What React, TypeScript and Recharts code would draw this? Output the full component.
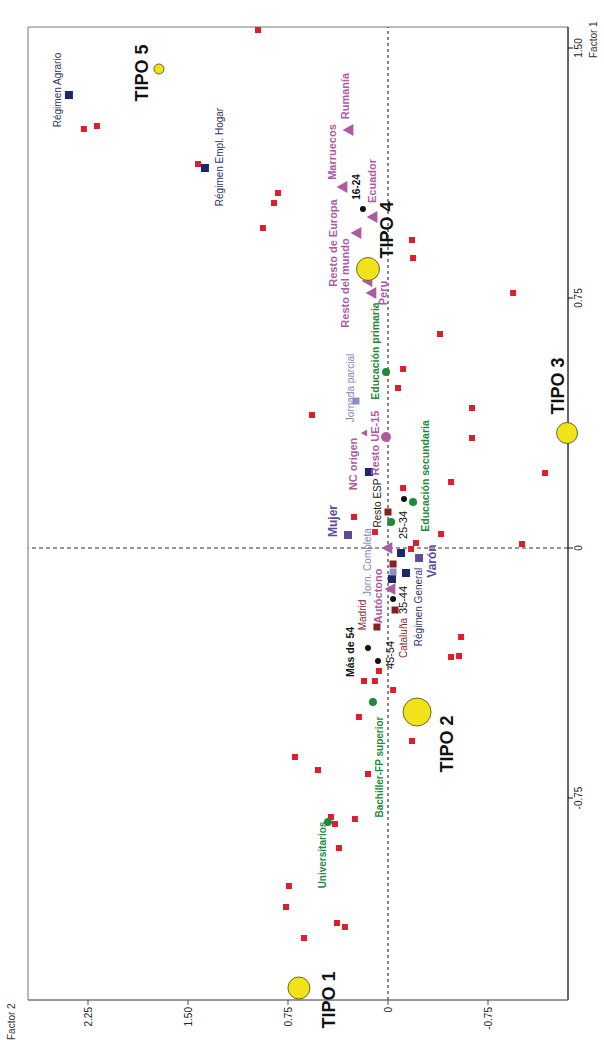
import React from 'react';
import { ScatterChart, Scatter, XAxis, YAxis, ReferenceLine, ReferenceArea } from 'recharts';

type Pt = { name: string; f1: number; f2: number };

// ---------- DATA ----------
const factor1Ticks = [-0.75, 0, 0.75, 1.5];
const factor2Ticks = [-0.75, 0, 0.75, 1.5, 2.25];

const individuos: Pt[] = [
  { name: '', f1: 1.554, f2: 0.975 }, { name: '', f1: 1.257, f2: 2.281 }, { name: '', f1: 1.266, f2: 2.183 },
  { name: '', f1: 1.152, f2: 1.425 }, { name: '', f1: 1.065, f2: 0.825 }, { name: '', f1: 1.035, f2: 0.855 },
  { name: '', f1: 0.96, f2: 0.938 }, { name: '', f1: 0.924, f2: -0.18 }, { name: '', f1: 0.87, f2: -0.188 },
  { name: '', f1: 0.765, f2: -0.938 }, { name: '', f1: 0.642, f2: -0.39 }, { name: '', f1: 0.537, f2: -0.113 },
  { name: '', f1: 0.48, f2: -0.075 }, { name: '', f1: 0.399, f2: 0.57 }, { name: '', f1: 0.42, f2: -0.63 },
  { name: '', f1: 0.33, f2: -0.63 }, { name: '', f1: 0.225, f2: -1.178 }, { name: '', f1: 0.198, f2: -0.473 },
  { name: '', f1: 0.18, f2: -0.113 }, { name: '', f1: 0.093, f2: 0.255 }, { name: '', f1: 0.048, f2: 0.098 },
  { name: '', f1: 0.042, f2: -0.398 }, { name: '', f1: 0.015, f2: -0.21 }, { name: '', f1: -0.003, f2: -0.173 },
  { name: '', f1: 0.012, f2: -1.005 }, { name: '', f1: -0.267, f2: -0.548 }, { name: '', f1: -0.327, f2: -0.473 },
  { name: '', f1: -0.324, f2: -0.533 }, { name: '', f1: -0.369, f2: 0.068 }, { name: '', f1: -0.399, f2: 0.18 },
  { name: '', f1: -0.399, f2: 0.098 }, { name: '', f1: -0.426, f2: -0.038 }, { name: '', f1: -0.507, f2: 0.218 },
  { name: '', f1: -0.579, f2: -0.18 }, { name: '', f1: -0.627, f2: 0.698 }, { name: '', f1: -0.666, f2: 0.525 },
  { name: '', f1: -0.678, f2: 0.15 }, { name: '', f1: -0.807, f2: 0.428 }, { name: '', f1: -0.813, f2: 0.248 },
  { name: '', f1: -0.828, f2: 0.398 }, { name: '', f1: -0.9, f2: 0.368 }, { name: '', f1: -1.014, f2: 0.743 },
  { name: '', f1: -1.077, f2: 0.765 }, { name: '', f1: -1.17, f2: 0.63 }, { name: '', f1: -1.125, f2: 0.383 },
  { name: '', f1: -1.137, f2: 0.323 },
];

const regimen: Pt[] = [
  { name: 'Régimen Agrario', f1: 1.359, f2: 2.393 },
  { name: 'Régimen Empl. Hogar', f1: 1.14, f2: 1.373 },
  { name: '', f1: 0.228, f2: 0.143 },
  { name: '', f1: -0.015, f2: -0.098 },
  { name: 'Régimen General', f1: -0.075, f2: -0.135 },
  { name: '', f1: -0.093, f2: -0.03 },
];

const jornada: Pt[] = [
  { name: 'Jornada parcial', f1: 0.441, f2: 0.24 },
  { name: 'Jorn. Completa', f1: -0.072, f2: -0.038 },
];

const sexo: Pt[] = [
  { name: 'Mujer', f1: 0.039, f2: 0.3 },
  { name: 'Varón', f1: -0.03, f2: -0.233 },
];

const region: Pt[] = [
  { name: 'Resto ESP', f1: 0.108, f2: 0.0 },
  { name: '', f1: -0.048, f2: -0.038 },
  { name: 'Madrid', f1: -0.237, f2: 0.083 },
  { name: 'Cataluña', f1: -0.186, f2: -0.053 },
];

const origen: Pt[] = [
  { name: 'Rumanía', f1: 1.254, f2: 0.3 },
  { name: 'Marruecos', f1: 1.083, f2: 0.345 },
  { name: 'Ecuador', f1: 0.993, f2: 0.12 },
  { name: 'Resto de Europa', f1: 0.945, f2: 0.24 },
  { name: 'Resto del mundo', f1: 0.801, f2: 0.158 },
  { name: 'Peru', f1: 0.765, f2: 0.128 },
  { name: 'Autóctono', f1: -0.123, f2: -0.015 },
  { name: '', f1: 0.0, f2: 0.008 },
];

const origenMenor: Pt[] = [
  { name: 'NC origen', f1: 0.345, f2: 0.18 },
];

const origenUE: Pt[] = [
  { name: 'Resto UE-15', f1: 0.333, f2: 0.015 },
];

const edad: Pt[] = [
  { name: '16-24', f1: 1.017, f2: 0.188 },
  { name: '25-34', f1: 0.147, f2: -0.12 },
  { name: '35-44', f1: -0.153, f2: -0.038 },
  { name: '45-54', f1: -0.339, f2: 0.075 },
  { name: 'Más de 54', f1: -0.3, f2: 0.15 },
];

const estudios: Pt[] = [
  { name: 'Educación primaria', f1: 0.528, f2: 0.015 },
  { name: 'Educación secundaria', f1: 0.138, f2: -0.188 },
  { name: '', f1: 0.078, f2: -0.023 },
  { name: 'Bachiller-FP superior', f1: -0.462, f2: 0.113 },
  { name: 'Universitarios', f1: -0.822, f2: 0.45 },
];

const tipos: Pt[] = [
  { name: 'TIPO 1', f1: -1.32, f2: 0.668 },
  { name: 'TIPO 2', f1: -0.492, f2: -0.218 },
  { name: 'TIPO 3', f1: 0.345, f2: -1.343 },
  { name: 'TIPO 4', f1: 0.837, f2: 0.15 },
  { name: 'TIPO 5', f1: 1.437, f2: 1.718 },
];

// ---------- STYLES ----------
const FONT = '"Liberation Sans", Arial, sans-serif';
const PURPLE = '#ad5aa5';
const VIOLET = '#5b4a98';
const GREEN = '#1f8a3c';
const NAVY = '#1d2766';
const MAROON = '#8a1f22';
const LIGHTBLUE = '#8a8fc6';
const RED = '#dc1f2b';

type LS = { dx: number; dy: number; size: number; weight: string | number; color: string };
const labelStyles: Record<string, LS> = {
  'Régimen Agrario': { dx: 5, dy: -11, size: 10, weight: 'normal', color: '#2e3466' },
  'Régimen Empl. Hogar': { dx: 11, dy: 15, size: 10, weight: 'normal', color: '#2e3466' },
  'Régimen General': { dx: -34, dy: 12, size: 10, weight: 'normal', color: '#2e3466' },
  'Jornada parcial': { dx: 13, dy: -6, size: 10, weight: 'normal', color: '#7f85b8' },
  'Jorn. Completa': { dx: 10, dy: -26, size: 10, weight: 'normal', color: '#7f85b8' },
  'Mujer': { dx: 14, dy: -15, size: 12, weight: 'bold', color: VIOLET },
  'Varón': { dx: -3, dy: 13, size: 12, weight: 'bold', color: VIOLET },
  'Resto ESP': { dx: 9, dy: -11, size: 10, weight: 'normal', color: '#222' },
  'Madrid': { dx: 12, dy: -14, size: 10, weight: 'normal', color: '#8b2b2b' },
  'Cataluña': { dx: -28, dy: 8, size: 10, weight: 'normal', color: '#8b2b2b' },
  'Rumanía': { dx: 34, dy: -3, size: 11, weight: 'bold', color: PURPLE },
  'Marruecos': { dx: 35, dy: -10, size: 11, weight: 'bold', color: PURPLE },
  'Ecuador': { dx: 36, dy: 0, size: 11, weight: 'bold', color: PURPLE },
  'Resto de Europa': { dx: -10, dy: -23, size: 11, weight: 'bold', color: PURPLE },
  'Resto del mundo': { dx: -2, dy: -22, size: 11, weight: 'bold', color: PURPLE },
  'Peru': { dx: 0, dy: 12, size: 11, weight: 'bold', color: PURPLE },
  'NC origen': { dx: -31, dy: -11, size: 11, weight: 'bold', color: PURPLE },
  'Autóctono': { dx: -7, dy: -12, size: 11, weight: 'bold', color: PURPLE },
  'Resto UE-15': { dx: -6, dy: -11, size: 11, weight: 'bold', color: PURPLE },
  '16-24': { dx: 22, dy: -6, size: 10, weight: 'bold', color: '#111' },
  '25-34': { dx: -26, dy: -1, size: 11, weight: 'normal', color: '#111' },
  '35-44': { dx: -1, dy: 10, size: 11, weight: 'normal', color: '#111' },
  '45-54': { dx: 6, dy: 12, size: 11, weight: 'normal', color: '#111' },
  'Más de 54': { dx: -4, dy: -18, size: 10.5, weight: 'bold', color: '#111' },
  'Educación primaria': { dx: 21, dy: -11, size: 10.5, weight: 'bold', color: GREEN },
  'Educación secundaria': { dx: 26, dy: 12, size: 10.5, weight: 'bold', color: GREEN },
  'Bachiller-FP superior': { dx: -65, dy: 7, size: 10, weight: 'bold', color: GREEN },
  'Universitarios': { dx: -33, dy: -6, size: 10, weight: 'bold', color: GREEN },
  'TIPO 1': { dx: -12, dy: 30, size: 18, weight: 'bold', color: '#111' },
  'TIPO 2': { dx: -32, dy: 30, size: 18, weight: 'bold', color: '#111' },
  'TIPO 3': { dx: 47, dy: -9, size: 18, weight: 'bold', color: '#111' },
  'TIPO 4': { dx: 39, dy: 19, size: 18, weight: 'bold', color: '#111' },
  'TIPO 5': { dx: -4, dy: -17, size: 18, weight: 'bold', color: '#111' },
};

const tipoRadius: Record<string, number> = {
  'TIPO 1': 11, 'TIPO 2': 14, 'TIPO 3': 10.5, 'TIPO 4': 11.5, 'TIPO 5': 5,
};

type Kind = 'square' | 'triangle' | 'circle' | 'tipo';

const renderLabel = (name: string, cx: number, cy: number) => {
  const s = labelStyles[name];
  if (!name || !s) return null;
  return (
    <text
      x={cx + s.dx}
      y={cy + s.dy}
      textAnchor="middle"
      dominantBaseline="central"
      fontFamily={FONT}
      fontSize={s.size}
      fontWeight={s.weight}
      fill={s.color}
    >
      {name}
    </text>
  );
};

const makeShape = (kind: Kind, color: string, size: number) => (props: any) => {
  const { cx, cy, payload } = props;
  if (cx == null || cy == null) return <g />;
  const name: string = payload?.name ?? '';
  let marker: React.ReactNode = null;
  if (kind === 'square') {
    marker = <rect x={cx - size / 2} y={cy - size / 2} width={size} height={size} fill={color} />;
  } else if (kind === 'triangle') {
    const h = size * 0.9;
    marker = (
      <polygon
        points={`${cx},${cy - h / 2} ${cx - size / 2},${cy + h / 2} ${cx + size / 2},${cy + h / 2}`}
        fill={color}
      />
    );
  } else if (kind === 'circle') {
    marker = <circle cx={cx} cy={cy} r={size / 2} fill={color} />;
  } else {
    const r = tipoRadius[name] ?? 10;
    marker = <circle cx={cx} cy={cy} r={r} fill="#f2e21a" stroke="#5e5820" strokeWidth={0.9} />;
  }
  return (
    <g>
      {marker}
      {renderLabel(name, cx, cy)}
    </g>
  );
};

const fmt = (v: number) => (v === 0 ? '0' : v.toFixed(2));

const X_DOMAIN: [number, number] = [-1.356, 1.563];
const Y_DOMAIN: [number, number] = [-1.35, 2.7];

export default function App() {
  return (
    <div style={{ position: 'absolute', left: 0, top: 0, width: 604, height: 1040, overflow: 'hidden', background: '#fff' }}>
      <div
        style={{
          position: 'absolute',
          left: 0,
          top: 0,
          width: 1040,
          height: 604,
          transformOrigin: '0 0',
          transform: 'translateY(1040px) rotate(-90deg)',
        }}
      >
        <ScatterChart width={1040} height={604} margin={{ top: 28, right: 27, bottom: 6, left: 5 }}>
          <XAxis
            type="number"
            dataKey="f1"
            domain={X_DOMAIN}
            ticks={factor1Ticks}
            tickFormatter={fmt}
            height={30}
            tickSize={5}
            tickMargin={2}
            axisLine={{ stroke: '#111' }}
            tickLine={{ stroke: '#111' }}
            tick={{ fontSize: 10, fill: '#222', fontFamily: FONT }}
          />
          <YAxis
            type="number"
            dataKey="f2"
            domain={Y_DOMAIN}
            ticks={factor2Ticks}
            tickFormatter={fmt}
            width={35}
            tickSize={5}
            tickMargin={2}
            axisLine={{ stroke: '#777' }}
            tickLine={{ stroke: '#555' }}
            tick={{ fontSize: 10, fill: '#222', fontFamily: FONT }}
          />
          <ReferenceArea x1={X_DOMAIN[0]} x2={X_DOMAIN[1]} y1={Y_DOMAIN[0]} y2={Y_DOMAIN[1]} fill="none" stroke="#777" strokeWidth={1} />
          <ReferenceLine y={0} stroke="#111" strokeDasharray="3 3" strokeWidth={1} />
          <ReferenceLine x={0} stroke="#777" strokeDasharray="4 3" strokeWidth={1.5} />
          <Scatter data={individuos} isAnimationActive={false} shape={makeShape('square', RED, 6)} />
          <Scatter data={estudios} isAnimationActive={false} shape={makeShape('circle', GREEN, 8)} />
          <Scatter data={edad} isAnimationActive={false} shape={makeShape('circle', '#111', 6)} />
          <Scatter data={regimen} isAnimationActive={false} shape={makeShape('square', NAVY, 8)} />
          <Scatter data={jornada} isAnimationActive={false} shape={makeShape('square', LIGHTBLUE, 7)} />
          <Scatter data={region} isAnimationActive={false} shape={makeShape('square', MAROON, 7)} />
          <Scatter data={sexo} isAnimationActive={false} shape={makeShape('square', '#5d4c9c', 8)} />
          <Scatter data={origen} isAnimationActive={false} shape={makeShape('triangle', PURPLE, 12)} />
          <Scatter data={origenMenor} isAnimationActive={false} shape={makeShape('triangle', PURPLE, 7)} />
          <Scatter data={origenUE} isAnimationActive={false} shape={makeShape('circle', PURPLE, 10)} />
          <Scatter data={tipos} isAnimationActive={false} shape={makeShape('tipo', '#f2e21a', 0)} />
        </ScatterChart>
        <div style={{ position: 'absolute', left: 982, top: 588, fontFamily: FONT, fontSize: 10, color: '#333', whiteSpace: 'nowrap' }}>
          Factor 1
        </div>
        <div style={{ position: 'absolute', left: 0, top: 6, fontFamily: FONT, fontSize: 10, color: '#333', whiteSpace: 'nowrap' }}>
          Factor 2
        </div>
      </div>
    </div>
  );
}
